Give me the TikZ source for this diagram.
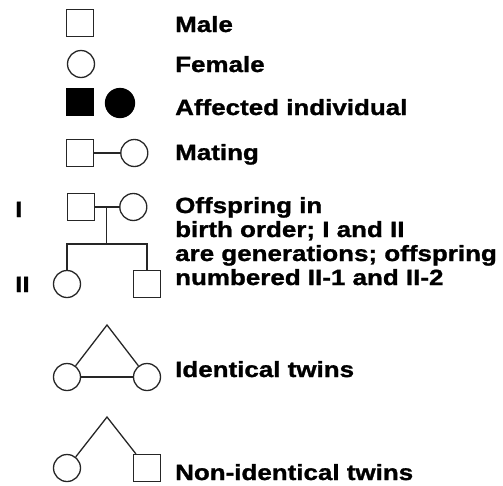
\documentclass[tikz,border=0pt]{standalone}
\usepackage{fontspec}
\setmainfont{Liberation Sans}[FakeStretch=1.18,BoldFeatures={FakeBold=1.2}]
\usetikzlibrary{positioning}

\begin{document}
\begin{tikzpicture}[x=1pt,y=-1pt,
  node distance=26pt,
  male/.style={draw=black!85,rectangle,minimum size=27pt,inner sep=0pt,line width=1.3pt},
  female/.style={draw=black!85,circle,minimum size=27pt,inner sep=0pt,line width=1.3pt},
  affected/.style={fill=black,draw=black},
  line/.style={draw=black!85,line width=1.3pt},
  legend/.style={font=\fontsize{22}{24}\selectfont\bfseries,anchor=base west,inner sep=0pt,align=left}
]
\useasboundingbox (0,0) rectangle (503,485);

% Symbols
\node[male] (male) at (80,23) {};
\node[female] (female) at (81,64) {};
\node[male,affected] (amale) at (80,102) {};
\node[female,affected,minimum size=29pt] (afemale) at (120,103) {};

% Mating
\node[male] (matem) at (80,153) {};
\node[female,right=26pt of matem] (matef) {};
\draw[line] (matem) -- (matef);

% Offspring
\node[male] (g1m) at (81,207) {};
\node[female,right=24pt of g1m] (g1f) {};
\coordinate (mid) at (106.5,207);
\coordinate (sib) at (106.5,244);
\node[female] (g2f) at (67,284) {};
\node[male] (g2m) at (147,284) {};
\draw[line] (g1m) -- (g1f);
\draw[line] (mid) -- (sib);
\draw[line] (g2f) |- (sib) -| (g2m);
\node[legend] (genI) at (15,217) {I};
\node[legend] (genII) at (15,292) {II};

% Identical twins
\coordinate (itop) at (107,325);
\node[female] (it1) at (67,377) {};
\node[female] (it2) at (147,377) {};
\draw[line] (it1) -- (itop) -- (it2);
\draw[line] (it1) -- (it2);

% Non-identical twins
\coordinate (ntop) at (107,417);
\node[female] (nt1) at (67,468) {};
\node[male] (nt2) at (147,468) {};
\draw[line] (nt1) -- (ntop) -- (nt2);

% Labels
\node[legend] (tmale) at (175,32) {Male};
\node[legend] (tfemale) at (175,72) {Female};
\node[legend] (taff) at (175,115) {Affected individual};
\node[legend] (tmate) at (175,160) {Mating};
\node[legend] (toff) at (175,285) {Offspring in\\birth order; I and II\\are generations; offspring\\numbered II-1 and II-2};
\node[legend] (tid) at (175,377) {Identical twins};
\node[legend] (tnid) at (175,480) {Non-identical twins};

\end{tikzpicture}
\end{document}
